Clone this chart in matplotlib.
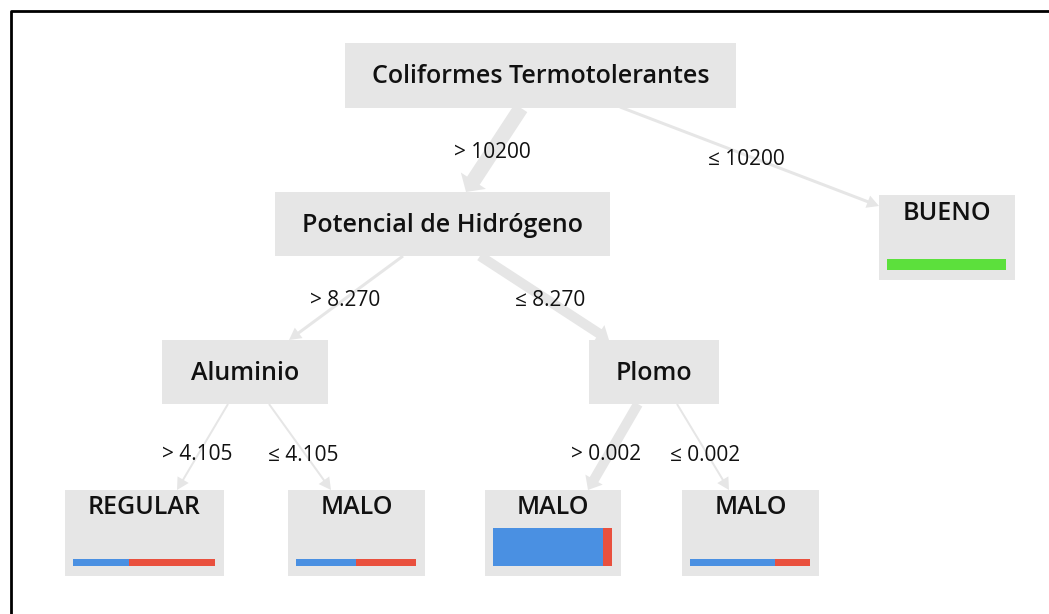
import matplotlib.pyplot as plt
from matplotlib.patches import Rectangle, FancyArrow

plt.rcParams['font.family'] = ['Open Sans', 'DejaVu Sans']

# tree content
node_names = ["Coliformes Termotolerantes", "Potencial de Hidrógeno", "BUENO",
              "Aluminio", "Plomo", "REGULAR", "MALO", "MALO", "MALO"]
edge_parent = [0, 0, 1, 1, 3, 3, 4, 4]
edge_child = [1, 2, 3, 4, 5, 6, 7, 8]
edge_labels = ["> 10200", "≤ 10200", "> 8.270", "≤ 8.270",
               "> 4.105", "≤ 4.105", "> 0.002", "≤ 0.002"]
edge_flow = [15, 3, 3, 10, 2, 2, 10, 2]

# leaf class shares (green, blue, red)
leaf_nodes = [2, 5, 6, 7, 8]
share_green = [1.0, 0.0, 0.0, 0.0, 0.0]
share_blue = [0.0, 0.395, 0.50, 0.927, 0.71]
share_red = [0.0, 0.605, 0.50, 0.073, 0.29]
leaf_bar_h = [11, 7, 7, 38, 7]

# layout in pixels: (x0, y0, x1, y1)
boxes = [(345, 43, 736, 108), (275, 192, 610, 256), (879, 195, 1015, 280),
         (162, 340, 328, 404), (589, 340, 719, 404), (65, 490, 224, 576),
         (288, 490, 425, 576), (485, 490, 621, 576), (682, 490, 819, 576)]
edge_start = [(521, 108), (620, 107), (403, 256), (480, 256),
              (228, 404), (269, 404), (638, 404), (677, 404)]
edge_end = [(466, 192), (879, 206), (289, 340), (609, 340),
            (177, 490), (331, 490), (588, 490), (729, 490)]
label_pos = [(492, 153), (746, 159), (345, 300), (550, 300),
             (197, 455), (303, 455), (606, 455), (705, 455)]

box_col = "#e6e6e6"
edge_col = "#e6e6e6"
cols = ["#5ce03c", "#4a90e2", "#e9503e"]

fig = plt.figure(figsize=(10.49, 6.14), dpi=100)
ax = fig.add_axes([0, 0, 1, 1])
ax.set_xlim(0, 1049)
ax.set_ylim(614, 0)
ax.axis('off')

# frame
ax.plot([11, 11, 1049], [614, 10.5, 10.5], color="black", lw=2, solid_capstyle='projecting')

for i in range(len(edge_parent)):
    x0, y0 = edge_start[i]
    x1, y1 = edge_end[i]
    w = edge_flow[i]
    hw = max(2.0 * w, 13)
    hl = max(0.9 * w, 12)
    ax.add_patch(FancyArrow(x0, y0, x1 - x0, y1 - y0, width=w, head_width=hw,
                            head_length=hl, length_includes_head=True,
                            color=edge_col, lw=0, zorder=1))
    ax.text(*label_pos[i], edge_labels[i], ha="center", va="center",
            fontsize=15, color="#111111", zorder=3)

for i, name in enumerate(node_names):
    x0, y0, x1, y1 = boxes[i]
    ax.add_patch(Rectangle((x0, y0), x1 - x0, y1 - y0, color=box_col, lw=0, zorder=2))
    if i in leaf_nodes:
        ty = y0 + 18
    else:
        ty = (y0 + y1) / 2 + 1
    ax.text((x0 + x1) / 2, ty, name, ha="center", va="center",
            fontsize=18, fontweight="semibold", color="#111111", zorder=3)

for k, n in enumerate(leaf_nodes):
    x0, y0, x1, y1 = boxes[n]
    bx0 = x0 + 8
    bw = (x1 - x0) - 17
    by1 = y1 - 10
    h = leaf_bar_h[k]
    left = bx0
    for share, c in zip([share_green[k], share_blue[k], share_red[k]], cols):
        if share > 0:
            ax.add_patch(Rectangle((left, by1 - h), bw * share, h, color=c, lw=0, zorder=3))
            left += bw * share

fig.savefig("out.png", dpi=100)
